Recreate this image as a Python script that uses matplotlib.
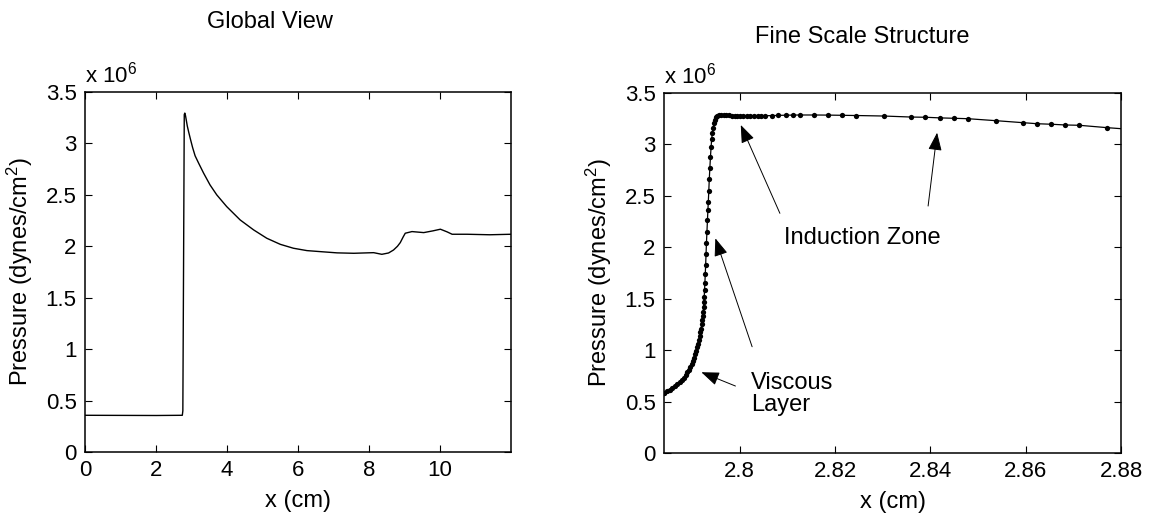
import matplotlib
matplotlib.use("Agg")
import matplotlib.pyplot as plt
import numpy as np

plt.rcParams['font.family'] = ['Liberation Sans', 'DejaVu Sans']
plt.rcParams['mathtext.fontset'] = 'custom'
plt.rcParams['mathtext.rm'] = 'Liberation Sans'
plt.rcParams['mathtext.it'] = 'Liberation Sans:italic'

# global pressure profile, x in cm, pressure in 1e6 dynes/cm^2
x_global = [0.0, 1.0, 2.0, 2.74, 2.755, 2.775, 2.795, 2.81, 2.83, 2.85, 2.88,
            2.92, 2.97, 3.03, 3.10, 3.20, 3.34, 3.52, 3.71, 3.99, 4.37, 4.75,
            5.12, 5.50, 5.87, 6.25, 6.63, 7.10, 7.57, 8.13, 8.36, 8.55, 8.69,
            8.80, 8.88, 8.96, 9.02, 9.21, 9.54, 9.80, 10.01, 10.20, 10.34,
            10.76, 11.40, 12.0]
p_global = [0.357, 0.356, 0.355, 0.357, 0.40, 1.80, 3.28, 3.295, 3.27, 3.23,
            3.17, 3.11, 3.04, 2.96, 2.88, 2.808, 2.711, 2.597, 2.500, 2.386,
            2.256, 2.159, 2.078, 2.019, 1.981, 1.958, 1.948, 1.936, 1.932,
            1.938, 1.922, 1.935, 1.964, 2.000, 2.036, 2.090, 2.127, 2.143,
            2.133, 2.150, 2.166, 2.140, 2.117, 2.117, 2.112, 2.117]

# grid points across the shock (adaptive mesh)
x_fine = [2.78400, 2.78420, 2.78475, 2.78530, 2.78585, 2.78640, 2.78690,
          2.78740, 2.78785, 2.78825, 2.78865, 2.78900, 2.78935, 2.78965,
          2.78995, 2.79020, 2.79045, 2.79068, 2.79090, 2.79110, 2.79128,
          2.79145, 2.79160, 2.79175, 2.79188, 2.79200, 2.79212, 2.79223,
          2.79232, 2.79240, 2.79247, 2.79254, 2.79261, 2.79268, 2.79276,
          2.79284, 2.79292, 2.79301, 2.79311, 2.79322, 2.79331, 2.79340,
          2.79350, 2.79360, 2.79372, 2.79385, 2.79398, 2.79410, 2.79424,
          2.79440, 2.79460, 2.79480, 2.79503, 2.79530,
          2.79565, 2.79610, 2.79660, 2.79715, 2.79770, 2.79830, 2.79890,
          2.79950, 2.80010, 2.80075, 2.80145, 2.80220, 2.80300, 2.80385,
          2.80455, 2.80526, 2.80667, 2.80806, 2.80962, 2.81109, 2.81263,
          2.81558, 2.81846, 2.82141, 2.82436, 2.83017, 2.83600, 2.83895,
          2.84196, 2.84491, 2.84785, 2.85368, 2.85952, 2.86246, 2.86541,
          2.86829, 2.87122, 2.87705, 2.88290]
p_fine = [0.581, 0.586, 0.600, 0.615, 0.632, 0.650, 0.670,
          0.690, 0.712, 0.733, 0.757, 0.783, 0.810, 0.838,
          0.868, 0.897, 0.928, 0.960, 0.993, 1.027, 1.062,
          1.098, 1.135, 1.172, 1.210, 1.250, 1.290, 1.332,
          1.374, 1.422, 1.471, 1.520, 1.585, 1.656, 1.740,
          1.828, 1.932, 2.045, 2.152, 2.265, 2.362, 2.443,
          2.550, 2.660, 2.770, 2.880, 2.975, 3.050, 3.110,
          3.160, 3.205, 3.240, 3.262, 3.276,
          3.284, 3.287, 3.287, 3.285, 3.282, 3.278, 3.275,
          3.273, 3.272, 3.272, 3.273, 3.274, 3.275, 3.277,
          3.278, 3.279, 3.280, 3.282, 3.284, 3.285, 3.286,
          3.286, 3.285, 3.283, 3.281, 3.276, 3.266, 3.264,
          3.258, 3.254, 3.250, 3.231, 3.211, 3.201, 3.196,
          3.189, 3.186, 3.163, 3.143]

y_ticks = [0, 0.5, 1, 1.5, 2, 2.5, 3, 3.5]
x_ticks_global = [0, 2, 4, 6, 8, 10]
x_ticks_fine = [2.80, 2.82, 2.84, 2.86, 2.88]

ylab = r'Pressure (dynes/cm$^{\mathregular{2}}$)'
TICK_FS = 16
LAB_FS = 17

fig = plt.figure(figsize=(11.57, 5.18), dpi=100)
ax1 = fig.add_axes([0.0735, 0.1274, 0.3682, 0.695])
ax2 = fig.add_axes([0.5739, 0.1255, 0.395, 0.695])


def style_axes(ax, xticks, fmt):
    ax.set_yticks(y_ticks)
    ax.set_yticklabels(['%g' % t for t in y_ticks])
    ax.set_xticks(xticks)
    ax.set_xticklabels([fmt % t for t in xticks])
    ax.set_ylim(0, 3.5)
    ax.tick_params(direction='in', top=True, right=True, length=5,
                   width=0.8, labelsize=TICK_FS, pad=6)
    for s in ax.spines.values():
        s.set_linewidth(1.1)
    ax.set_ylabel(ylab, fontsize=LAB_FS, labelpad=8)
    ax.set_xlabel('x (cm)', fontsize=LAB_FS, labelpad=6)
    ax.text(0, 1.012, r'x 10$^{\mathregular{6}}$', transform=ax.transAxes,
            ha='left', va='bottom', fontsize=TICK_FS)


# left panel: whole domain
ax1.plot(x_global, p_global, color='k', lw=1.0)
ax1.set_xlim(0, 12)
style_axes(ax1, x_ticks_global, '%g')

# right panel: zoom on the shock front with mesh points
ax2.plot(x_fine, p_fine, color='k', lw=0.9, marker='o', markersize=3.8,
         markerfacecolor='k', markeredgewidth=0)
ax2.set_xlim(2.7841, 2.88)
style_axes(ax2, x_ticks_fine, '%g')

arrow = dict(arrowstyle='-|>,head_length=1.1,head_width=0.42', color='k',
             lw=0.7, mutation_scale=10, shrinkA=0, shrinkB=0)
ax2.annotate('', xy=(2.79194, 0.785), xytext=(2.79909, 0.651), arrowprops=arrow)
ax2.annotate('', xy=(2.79488, 2.087), xytext=(2.80259, 1.033), arrowprops=arrow)
ax2.annotate('', xy=(2.80021, 3.189), xytext=(2.80842, 2.330), arrowprops=arrow)
ax2.annotate('', xy=(2.84141, 3.114), xytext=(2.83952, 2.401), arrowprops=arrow)
ax2.text(2.80232, 0.578, 'Viscous\nLayer', fontsize=LAB_FS, ha='left',
         va='center', linespacing=1.0)
ax2.text(2.82568, 2.09, 'Induction Zone', fontsize=LAB_FS, ha='center',
         va='center')

fig.text(0.2334, 0.9575, 'Global View', fontsize=LAB_FS, ha='center', va='center')
fig.text(0.745, 0.9286, 'Fine Scale Structure', fontsize=LAB_FS, ha='center',
         va='center')

fig.savefig('out.png', dpi=100)
